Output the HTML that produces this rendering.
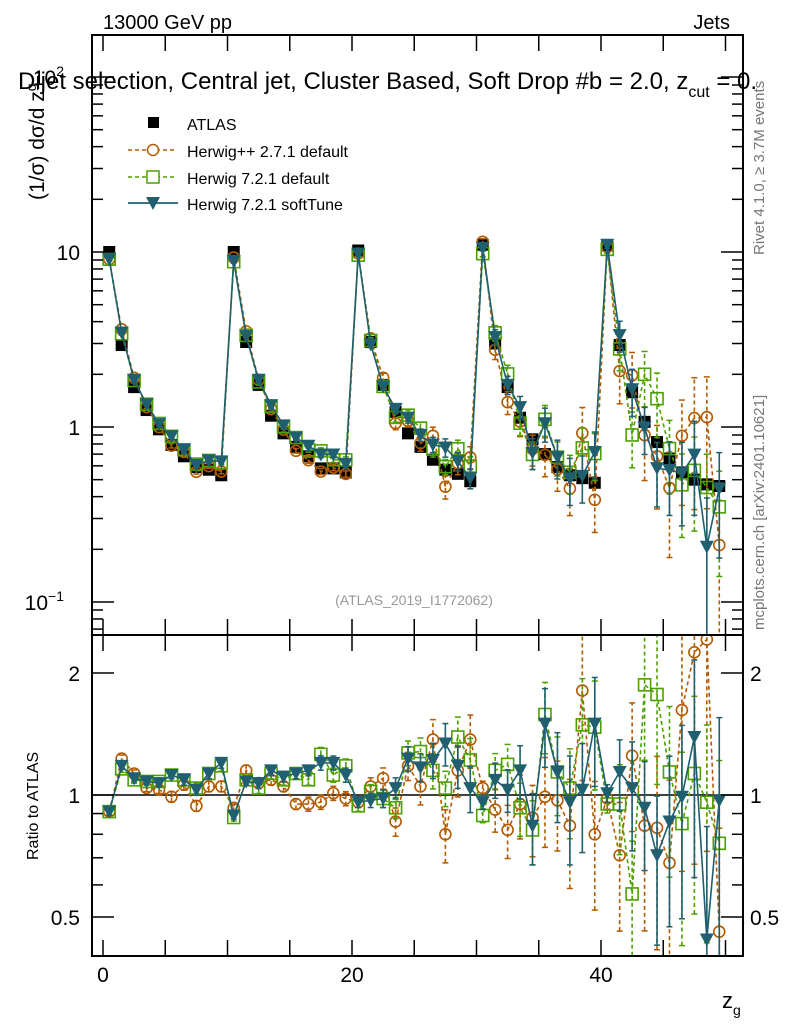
<!DOCTYPE html>
<html><head><meta charset="utf-8">
<style>
html,body{margin:0;padding:0;background:#fff;width:786px;height:1024px;overflow:hidden;}
svg{display:block;font-family:"Liberation Sans",sans-serif;}
</style></head>
<body>
<svg id="chart" width="786" height="1024" viewBox="0 0 786 1024">
<rect x="0" y="0" width="786" height="1024" fill="#fff"/>
<g id="marks"></g>
<g id="axes"></g>
<text x="103" y="29" font-size="20">13000 GeV pp</text>
<text x="730" y="29" font-size="20" text-anchor="end">Jets</text>
<text x="18" y="89" font-size="24">Dijet selection, Central jet, Cluster Based, Soft Drop #b = 2.0, z<tspan font-size="16" dy="8">cut</tspan><tspan dy="-8"> = 0.</tspan></text>
<text transform="translate(44,200) rotate(-90)" font-size="21">(1/σ) dσ/d z<tspan font-size="14" dy="-8">g</tspan></text>
<text transform="translate(38,860) rotate(-90)" font-size="16">Ratio to ATLAS</text>
<text x="722" y="1008" font-size="22">z<tspan font-size="14" dy="7">g</tspan></text>
<text transform="translate(764,255) rotate(-90)" font-size="15" fill="#777">Rivet 4.1.0, ≥ 3.7M events</text>
<text transform="translate(764,630) rotate(-90)" font-size="15" fill="#777">mcplots.cern.ch [arXiv:2401.10621]</text>
<text x="414" y="605" font-size="14" fill="#999" text-anchor="middle">(ATLAS_2019_I1772062)</text>
<g>
  <rect x="148" y="117" width="11" height="11" fill="#000"/>
  <text x="187" y="130" font-size="16">ATLAS</text>
  <line x1="128" y1="150" x2="175" y2="150" stroke="#b35a00" stroke-width="1.5" stroke-dasharray="4,3"/>
  <circle cx="153" cy="150" r="5.5" fill="#fff" stroke="#b35a00" stroke-width="1.5"/>
  <text x="187" y="157" font-size="16">Herwig++ 2.7.1 default</text>
  <line x1="128" y1="177" x2="175" y2="177" stroke="#4ca000" stroke-width="1.5" stroke-dasharray="4,3"/>
  <rect x="147" y="171" width="12" height="12" fill="#fff" stroke="#4ca000" stroke-width="1.5"/>
  <text x="187" y="184" font-size="16">Herwig 7.2.1 default</text>
  <line x1="128" y1="203" x2="178" y2="203" stroke="#1f5f6f" stroke-width="1.8"/>
  <polygon points="146,197 160,197 153,210" fill="#1f5f6f"/>
  <text x="187" y="210" font-size="16">Herwig 7.2.1 softTune</text>
</g>
</svg>
<script>
// data
const binCenters = [];
for (let i = 0; i < 50; i++) binCenters.push(i + 0.5);
const atlas = [10,2.94,1.69,1.25,0.97,0.79,0.68,0.59,0.57,0.53,
 10,3.06,1.74,1.16,0.92,0.77,0.68,0.58,0.58,0.55,
 10.2,3.06,1.74,1.22,0.92,0.77,0.65,0.57,0.54,0.49,
 11,3.0,1.69,1.13,0.85,0.70,0.59,0.53,0.51,0.48,
 10.9,2.94,1.58,1.07,0.82,0.66,0.55,0.50,0.47,0.46];
const ratioHpp = [0.91,1.23,1.13,1.04,1.03,0.99,1.06,0.94,1.05,1.05,
 0.93,1.15,1.07,1.09,1.05,0.95,0.95,0.96,1.01,0.98,
 0.96,1.05,1.10,0.86,1.18,1.05,1.37,0.80,1.15,1.37,
 1.04,0.92,0.82,0.95,0.88,0.99,0.97,0.84,1.81,0.80,
 0.98,0.71,1.25,0.84,0.83,0.68,1.62,2.25,2.42,0.46];
const ratioH7 = [0.91,1.16,1.09,1.08,1.08,1.12,1.09,1.04,1.13,1.18,
 0.88,1.09,1.04,1.13,1.09,1.13,1.09,1.26,1.12,1.18,
 0.94,1.02,0.98,0.93,1.27,1.28,1.15,1.04,1.39,1.22,
 0.89,1.15,1.19,0.93,0.82,1.58,1.14,1.04,1.49,1.47,
 0.95,0.95,0.57,1.87,1.77,1.14,0.85,1.13,0.96,0.76];
const ratioSoft = [0.91,1.18,1.10,1.08,1.07,1.12,1.09,1.03,1.13,1.20,
 0.89,1.08,1.07,1.15,1.11,1.13,1.15,1.20,1.20,1.12,
 0.96,0.97,0.98,1.04,1.23,1.17,1.22,1.34,1.18,1.04,
 0.96,1.09,1.03,1.15,0.84,1.50,1.14,0.96,1.03,1.50,
 1.01,1.14,1.04,0.93,0.71,0.86,0.99,1.39,0.44,0.97];
const relErrHpp = [0.02,0.02,0.02,0.02,0.02,0.03,0.03,0.03,0.03,0.03,
 0.02,0.03,0.03,0.03,0.03,0.03,0.04,0.04,0.04,0.04,
 0.03,0.05,0.06,0.08,0.08,0.1,0.12,0.15,0.14,0.15,
 0.04,0.12,0.15,0.18,0.2,0.25,0.25,0.3,0.4,0.35,
 0.06,0.35,0.35,0.45,0.5,0.6,0.6,0.7,0.7,0.8];
const relErrH7 = [0.02,0.02,0.02,0.02,0.02,0.02,0.03,0.03,0.03,0.03,
 0.02,0.02,0.03,0.03,0.03,0.03,0.03,0.04,0.04,0.04,
 0.03,0.04,0.05,0.06,0.07,0.08,0.1,0.1,0.12,0.13,
 0.04,0.1,0.12,0.15,0.18,0.2,0.22,0.25,0.3,0.3,
 0.05,0.25,0.35,0.35,0.4,0.45,0.5,0.55,0.55,0.6];
const relErrSoft = [0.02,0.02,0.02,0.02,0.02,0.02,0.03,0.03,0.03,0.03,
 0.02,0.02,0.03,0.03,0.03,0.03,0.03,0.04,0.04,0.04,
 0.03,0.04,0.05,0.06,0.07,0.08,0.1,0.12,0.12,0.13,
 0.04,0.1,0.12,0.15,0.2,0.22,0.25,0.3,0.3,0.3,
 0.05,0.2,0.3,0.3,0.4,0.45,0.5,0.55,0.9,0.6];
const ratioTicks = [0.5,1,2];
const ratioTickLabels = ["0.5","1","2"];
const xTickLabels = [0,20,40];

const NS = "http://www.w3.org/2000/svg";
const L = 92, R = 743, T = 35, MID = 635, B = 956;
function xs(v){ return 103 + v * 12.45; }
function ym(v){ return 427 - Math.log10(v) * 175; }
function yr(v){ return 795 - Math.log2(v) * 122; }
function mk(tag, attrs, parent){
  const e = document.createElementNS(NS, tag);
  for (const k in attrs) e.setAttribute(k, attrs[k]);
  parent.appendChild(e); return e;
}
const marks = document.getElementById('marks');
const axes = document.getElementById('axes');

const defs = mk('defs', {}, marks);
const c1 = mk('clipPath', {id:'cmain'}, defs); mk('rect', {x:L,y:T,width:R-L,height:MID-T}, c1);
const c2 = mk('clipPath', {id:'cratio'}, defs); mk('rect', {x:L,y:MID,width:R-L,height:B-MID}, c2);
const gMain = mk('g', {'clip-path':'url(#cmain)'}, marks);


const gRatio = mk('g', {'clip-path':'url(#cratio)'}, marks);



const ref = mk('line', {x1:L, x2:R, y1:yr(1), y2:yr(1), stroke:'#000', 'stroke-width':1.5}, gRatio);



const series = [
  {name:'herwigpp', ratio:ratioHpp, err:relErrHpp, color:'#b35a00', dash:'4,3', marker:'circle'},
  {name:'herwig7', ratio:ratioH7, err:relErrH7, color:'#4ca000', dash:'4,3', marker:'square'},
  {name:'softtune', ratio:ratioSoft, err:relErrSoft, color:'#1f5f6f', dash:null, marker:'tri'}
];

function drawMarker(g, s, x, y, nm){
  let e;
  if (s.marker === 'circle') e = mk('circle', {cx:x, cy:y, r:5.5, fill:'none', stroke:s.color, 'stroke-width':1.6}, g);
  else if (s.marker === 'square') e = mk('rect', {x:x-6, y:y-6, width:12, height:12, fill:'none', stroke:s.color, 'stroke-width':1.6}, g);
  else e = mk('polygon', {points:(x-7)+','+(y-6)+' '+(x+7)+','+(y-6)+' '+x+','+(y+7), fill:s.color}, g);
  
  
}

const gAtlas = mk('g', {}, gMain);


binCenters.forEach((c, i) => {
  const r = mk('rect', {x:xs(c)-6, y:ym(atlas[i])-6, width:12, height:12, fill:'#000'}, gAtlas);
  
  
});

series.forEach(s => {
  const gm = mk('g', {}, gMain);
  
  
  const gr = mk('g', {}, gRatio);
  
  
  const vals = binCenters.map((c, i) => atlas[i] * s.ratio[i]);
  const ptsM = binCenters.map((c, i) => xs(c) + ',' + ym(vals[i])).join(' ');
  const ptsR = binCenters.map((c, i) => xs(c) + ',' + yr(s.ratio[i])).join(' ');
  const la = {fill:'none', stroke:s.color, 'stroke-width':1.6};
  if (s.dash) la['stroke-dasharray'] = s.dash;
  const l1 = mk('polyline', Object.assign({points:ptsM}, la), gm);
  
  
  const l2 = mk('polyline', Object.assign({points:ptsR}, la), gr);
  
  
  binCenters.forEach((c, i) => {
    const x = xs(c), e = s.err[i];
    const lo = Math.max(1 - e, 0.05), hi = 1 + e;
    [[gm, ym, vals[i]], [gr, yr, s.ratio[i]]].forEach(([g, f, v]) => {
      const eb = mk('line', Object.assign({x1:x, x2:x, y1:f(v*lo), y2:f(v*hi)}, la), g);
      
      
      [lo, hi].forEach(m => {
        const cap = mk('line', {x1:x-3, x2:x+3, y1:f(v*m), y2:f(v*m), stroke:s.color, 'stroke-width':1.5}, g);
        
        
      });
    });
    drawMarker(gm, s, x, ym(vals[i]), s.name + '-point');
    drawMarker(gr, s, x, yr(s.ratio[i]), s.name + '-ratio-point');
  });
});

[[T, MID], [MID, B]].forEach(([a, b], k) => {
  const f = mk('rect', {x:L, y:a, width:R-L, height:b-a, fill:'none', stroke:'#000', 'stroke-width':2}, axes);
  
  
});
for (let v = 0; v <= 50; v += 5) {
  const x = xs(v);
  [[T, 1], [MID, -1], [MID, 1], [B, -1]].forEach(([y, d]) => {
    const t = mk('line', {x1:x, x2:x, y1:y, y2:y + d*16, stroke:'#000', 'stroke-width':1.5}, axes);
    
    
  });
}
xTickLabels.forEach(v => {
  const t = mk('text', {x:xs(v), y:982, 'font-size':21, 'text-anchor':'middle'}, axes);
  t.textContent = v;
  
  
});
for (let d = -2; d <= 2; d++) {
  for (let m = 1; m <= 9; m++) {
    const v = m * Math.pow(10, d);
    const y = ym(v);
    if (y < T || y > MID) continue;
    const len = m === 1 ? 22 : 11;
    [[L, 1], [R, -1]].forEach(([x, s]) => {
      const t = mk('line', {x1:x, x2:x + s*len, y1:y, y2:y, stroke:'#000', 'stroke-width':1.5}, axes);
      
      
    });
  }
}
const yl = [[10, '10', null], [1, '1', null], [0.1, '10', '−1'], [100, '10', '2']];
yl.forEach(([v, base, exp]) => {
  const t = mk('text', {x: exp ? 64 : 80, y: ym(v) + 8, 'font-size':21, 'text-anchor':'end'}, axes);
  t.textContent = base;
  if (exp) { const ts = mk('tspan', {'font-size':14, dy:-9}, t); ts.textContent = exp; }
  
  
});
[0.4,0.5,0.6,0.7,0.8,0.9,1,2].forEach(v => {
  const len = ratioTicks.includes(v) ? 22 : 11;
  [[L, 1], [R, -1]].forEach(([x, s]) => {
    const t = mk('line', {x1:x, x2:x + s*len, y1:yr(v), y2:yr(v), stroke:'#000', 'stroke-width':1.5}, axes);
    
    
  });
});
ratioTicks.forEach((v, i) => {
  [[80, 'end'], [750, 'start']].forEach(([x, a]) => {
    const t = mk('text', {x:x, y:yr(v) + 8, 'font-size':21, 'text-anchor':a}, axes);
    t.textContent = ratioTickLabels[i];
    
    
  });
});
</script>
</body></html>
